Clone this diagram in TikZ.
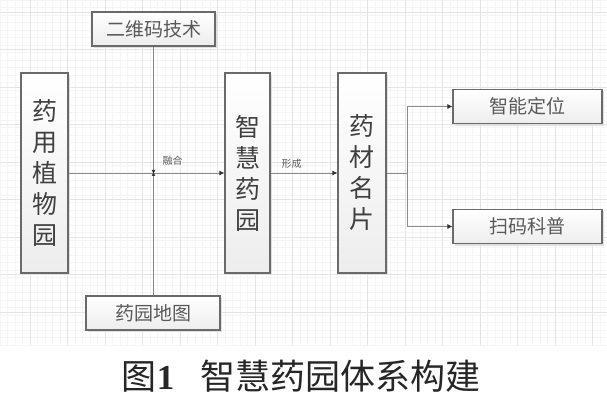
\documentclass[tikz,border=0pt]{standalone}
\usepackage{fontspec}
\setmainfont{Liberation Serif}
\newfontfamily\cjk{Noto Sans CJK SC}
\usetikzlibrary{arrows.meta}
\definecolor{boxline}{HTML}{6A6A6A}
\definecolor{conn}{HTML}{8A8A8A}
\definecolor{tip}{HTML}{333333}
\tikzset{
  boxbase/.style={draw=boxline, line width=1.1pt, top color=white, bottom color=gray!14, inner sep=0pt, text=black!75},
  tallbox/.style={boxbase, minimum width=#1, minimum height=200pt, align=center, font=\cjk\fontsize{25}{31}\selectfont},
  widebox/.style={boxbase, minimum width=#1, minimum height=34pt, font=\cjk\fontsize{19}{19}\selectfont, text=black!65},
  conline/.style={draw=conn, line width=0.9pt},
  arr/.style={conline, -{Latex[length=5pt,width=5pt,fill=tip,color=tip]}},
  lab/.style={font=\cjk\fontsize{10}{10}\selectfont, text=black!65, inner sep=0pt},
  shadowbox/.style={fill=gray!25, draw=none}
}
\begin{document}
\begin{tikzpicture}[x=1pt,y=-1pt]
\useasboundingbox (0,0) rectangle (607,403);
\fill[white] (0,0) rectangle (607,403);
% grid
\foreach \i in {0,7.5,...,607} {\draw[gray!8, line width=0.5pt] (\i,0) -- (\i,345);}
\foreach \j in {0,7.5,...,345} {\draw[gray!8, line width=0.5pt] (0,\j) -- (607,\j);}
\foreach \i in {30,67.5,...,607} {\draw[gray!20, line width=0.7pt] (\i,0) -- (\i,345);}
\foreach \j in {12,49.5,...,345} {\draw[gray!20, line width=0.7pt] (0,\j) -- (607,\j);}
% shadows
\fill[shadowbox] (23,75) rectangle (70,275);
\fill[shadowbox] (227,75) rectangle (272,275);
\fill[shadowbox] (340,75) rectangle (388,275);
\fill[shadowbox] (94,14) rectangle (217,48);
\fill[shadowbox] (88,298) rectangle (222,332);
\fill[shadowbox] (455,91) rectangle (604,126);
\fill[shadowbox] (455,211) rectangle (604,246);
% nodes
\node[tallbox=47pt] (zhiwu) at (44.5,173) {药\\用\\植\\物\\园};
\node[tallbox=45pt] (zhihui) at (247.5,173) {智\\慧\\药\\园};
\node[tallbox=48pt] (mingpian) at (362,173) {药\\材\\名\\片};
\node[widebox=123pt] (erwei) at (153.5,29) {二维码技术};
\node[widebox=134pt] (ditu) at (153,313) {药园地图};
\node[widebox=149pt] (dingwei) at (527.5,106.5) {智能定位};
\node[widebox=149pt] (kepu) at (527.5,226.5) {扫码科普};
\coordinate (junc) at (153.5,173);
\coordinate (branch) at (407,173);
% connectors
\draw[arr] (zhiwu.east |- junc) -- (zhihui.west |- junc);
\draw[conline, -{Latex[length=4pt,width=4pt,fill=tip,color=tip]}] (erwei.south) -- ([yshift=-1pt]junc);
\draw[conline, -{Latex[length=4pt,width=4pt,fill=tip,color=tip]}] (ditu.north -| junc) -- ([yshift=1pt]junc);
\draw[arr] (zhihui.east |- junc) -- (mingpian.west |- junc);
\draw[conline] (mingpian.east |- branch) -- (branch);
\draw[arr] (branch) |- (dingwei.west);
\draw[arr] (branch) |- (kepu.west);
% labels
\node[lab] (ronghe) at (172.5,161) {融合};
\node[lab] (xingcheng) at (291.5,164) {形成};
% caption
\node[inner sep=0pt, text=black!85] (caption) at (301,376) {{\cjk\fontsize{35}{35}\selectfont 图}{\fontsize{35}{35}\selectfont\bfseries 1}\hspace{26pt}{\cjk\fontsize{35}{35}\selectfont 智慧药园体系构建}};
\end{tikzpicture}
\end{document}
